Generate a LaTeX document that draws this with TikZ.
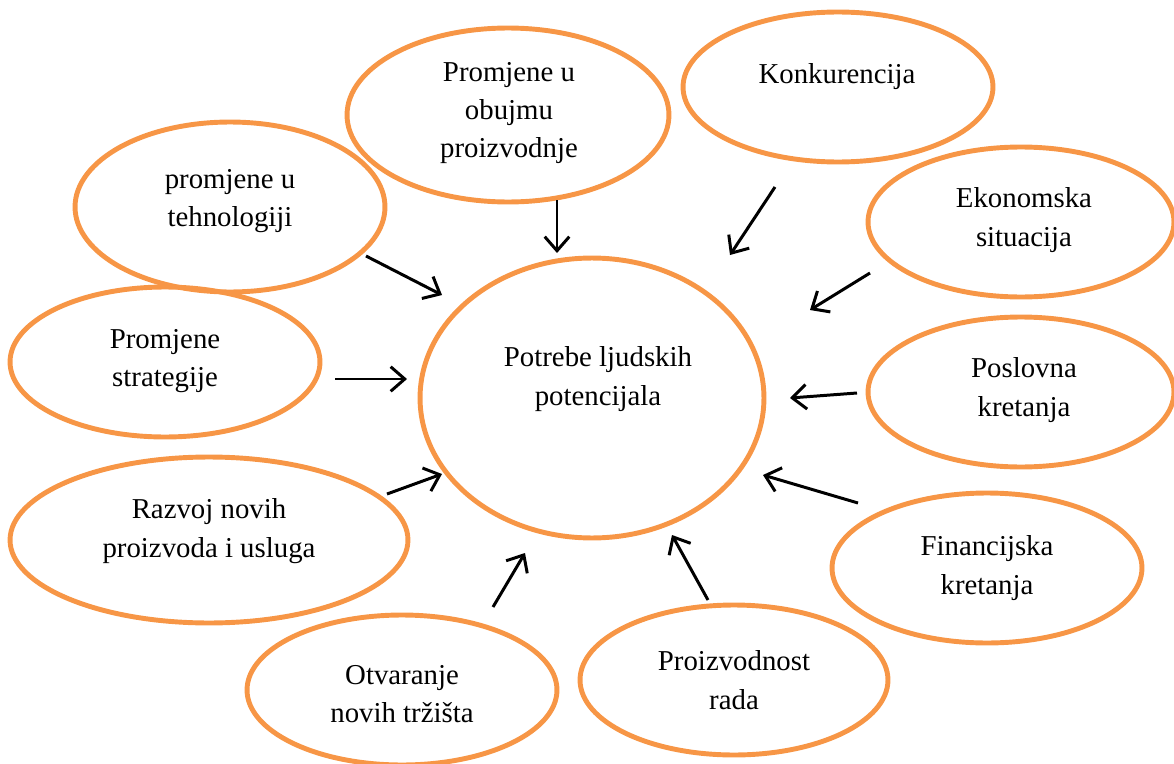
\documentclass[tikz,border=0pt]{standalone}
\usepackage{fontspec}
\setmainfont{Liberation Serif}
\usetikzlibrary{shapes.geometric,arrows.meta}
\definecolor{borange}{HTML}{F79646}
\tikzset{
  ell/.style={draw=borange, line width=2.8pt, ellipse, inner sep=0pt},
  txt/.style={align=center, inner sep=0pt, font=\fontsize{16.4}{21.8}\selectfont},
  arr/.style={line width=1.7pt, -{Straight Barb[length=8pt,width=14pt,line width=1.7pt]}}
}
\begin{document}
\begin{tikzpicture}[x=0.02cm,y=-0.02cm]
\useasboundingbox (0,0) rectangle (1174,764);
% ellipses (center, size in px*0.02cm)
\node[ell, minimum width=6.88cm, minimum height=5.6cm] (c) at (592,398) {};
\node[ell, minimum width=6.44cm, minimum height=3.48cm] (e1) at (508,115) {};
\node[ell, minimum width=6.2cm, minimum height=3.0cm] (e2) at (838,87) {};
\node[ell, minimum width=6.2cm, minimum height=3.4cm] (e3) at (230,207) {};
\node[ell, minimum width=6.12cm, minimum height=3.0cm] (e4) at (1021,222) {};
\node[ell, minimum width=6.2cm, minimum height=3.0cm] (e5) at (165,362) {};
\node[ell, minimum width=6.12cm, minimum height=3.0cm] (e6) at (1021,392) {};
\node[ell, minimum width=7.96cm, minimum height=3.32cm] (e7) at (209,540) {};
\node[ell, minimum width=6.2cm, minimum height=3.0cm] (e8) at (987,568) {};
\node[ell, minimum width=6.2cm, minimum height=3.0cm] (e9) at (402,690) {};
\node[ell, minimum width=6.16cm, minimum height=3.0cm] (e10) at (734,680) {};
% texts
\node[txt] (tc) at (598,379) {Potrebe ljudskih\\potencijala};
\node[txt] (t1) at (509,113) {Promjene u\\obujmu\\proizvodnje};
\node[txt] (t2) at (837,77) {Konkurencija};
\node[txt] (t3) at (230,201) {promjene u\\tehnologiji};
\node[txt] (t4) at (1024,220) {Ekonomska\\situacija};
\node[txt] (t5) at (165,361) {Promjene\\strategije};
\node[txt] (t6) at (1024,390) {Poslovna\\kretanja};
\node[txt] (t7) at (209,531) {Razvoj novih\\proizvoda i usluga};
\node[txt] (t8) at (987,568) {Financijska\\kretanja};
\node[txt] (t9) at (402,694) {Otvaranje\\novih tržišta};
\node[txt] (t10) at (734,680) {Proizvodnost\\rada};
% arrow endpoints
\coordinate (a1s) at (557,200); \coordinate (a1e) at (557,253);
\coordinate (a2s) at (775,187); \coordinate (a2e) at (730,255);
\coordinate (a3s) at (870,273); \coordinate (a3e) at (810,310);
\coordinate (a4s) at (857,393); \coordinate (a4e) at (790,398);
\coordinate (a5s) at (858,503); \coordinate (a5e) at (763,475);
\coordinate (a6s) at (708,600); \coordinate (a6e) at (672,535);
\coordinate (a7s) at (493,607); \coordinate (a7e) at (525,553);
\coordinate (a8s) at (387,494); \coordinate (a8e) at (442,474);
\coordinate (a9s) at (335,379); \coordinate (a9e) at (407,379);
\coordinate (a10s) at (366,256); \coordinate (a10e) at (442,295);
\foreach \i in {1,...,10} {\draw[arr] (a\i s) -- (a\i e);}
\end{tikzpicture}
\end{document}
